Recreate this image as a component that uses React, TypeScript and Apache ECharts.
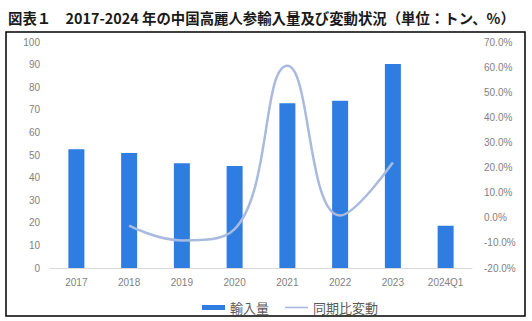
import React, { useEffect, useRef } from "react";
import * as echarts from "echarts";

const categories = ["2017", "2018", "2019", "2020", "2021", "2022", "2023", "2024Q1"];
const importVolume = [52.5, 50.9, 46.3, 45.1, 72.9, 74.0, 90.3, 18.7];
const yoyChange = [null, -3.1, -9.0, -4.5, 60.5, 0.9, 22.0, null];
const leftTicks = { min: 0, max: 100, interval: 10 };
const rightTicks = { min: -20, max: 70, interval: 10 };

const TITLE = "図表１　2017-2024 年の中国高麗人参輸入量及び変動状況（単位：トン、%）";
const CJK = '"Noto Sans CJK JP", "Noto Sans", sans-serif';
const LAT = '"Liberation Sans", "DejaVu Sans", sans-serif';

export default function App() {
  const ref = useRef<HTMLDivElement>(null);
  useEffect(() => {
    if (!ref.current) return;
    const chart = echarts.init(ref.current, undefined, { renderer: "svg" });
    chart.setOption({
      animation: false,
      backgroundColor: "#ffffff",
      title: {
        text: TITLE,
        left: 3,
        top: 5,
        textStyle: { fontFamily: CJK, fontSize: 14.4, fontWeight: "bold", color: "#1a1a1a" },
      },
      graphic: [
        {
          type: "rect",
          shape: { x: 6, y: 32, width: 519, height: 284 },
          style: { fill: "none", stroke: "#000", lineWidth: 1.5 },
          silent: true,
        },
      ],
      grid: { left: 50, right: 60, top: 42, bottom: 53, containLabel: false },
      legend: {
        left: 197,
        top: 296,
        itemGap: 16,
        itemWidth: 23,
        itemHeight: 5,
        textStyle: { fontFamily: CJK, fontSize: 13, color: "#595959" },
        data: [
          { name: "輸入量", icon: "rect" },
          { name: "同期比変動", icon: "path://M0,0 H23 V1.6 H0 Z", itemStyle: { color: "#a9bade" } },
        ],
      },
      xAxis: {
        type: "category",
        data: categories,
        boundaryGap: true,
        axisLine: { lineStyle: { color: "#d9d9d9" } },
        axisTick: { show: false },
        axisLabel: { color: "#7f7f7f", fontFamily: LAT, fontSize: 10, margin: 9 },
      },
      yAxis: [
        {
          type: "value",
          ...leftTicks,
          splitLine: { show: false },
          axisLine: { show: false },
          axisTick: { show: false },
          axisLabel: { color: "#7f7f7f", fontFamily: LAT, fontSize: 10, margin: 10 },
        },
        {
          type: "value",
          ...rightTicks,
          position: "right",
          splitLine: { show: false },
          axisLine: { show: false },
          axisTick: { show: false },
          axisLabel: {
            color: "#7f7f7f",
            fontFamily: LAT,
            fontSize: 10,
            margin: 12,
            formatter: (v: number) => v.toFixed(1) + "%",
          },
        },
      ],
      series: [
        {
          name: "輸入量",
          type: "bar",
          data: importVolume,
          barWidth: 16,
          itemStyle: { color: "#2f7de1" },
        },
        {
          name: "同期比変動",
          type: "line",
          yAxisIndex: 1,
          data: yoyChange,
          smooth: 0.45,
          symbol: "none",
          showSymbol: false,
          connectNulls: false,
          lineStyle: { color: "#a9bade", width: 2.5 },
          itemStyle: { color: "#a9bade" },
        },
      ],
    });
    return () => chart.dispose();
  }, []);
  return (
    <div
      ref={ref}
      style={{ position: "fixed", left: 0, top: 0, width: 532, height: 321 }}
    />
  );
}
